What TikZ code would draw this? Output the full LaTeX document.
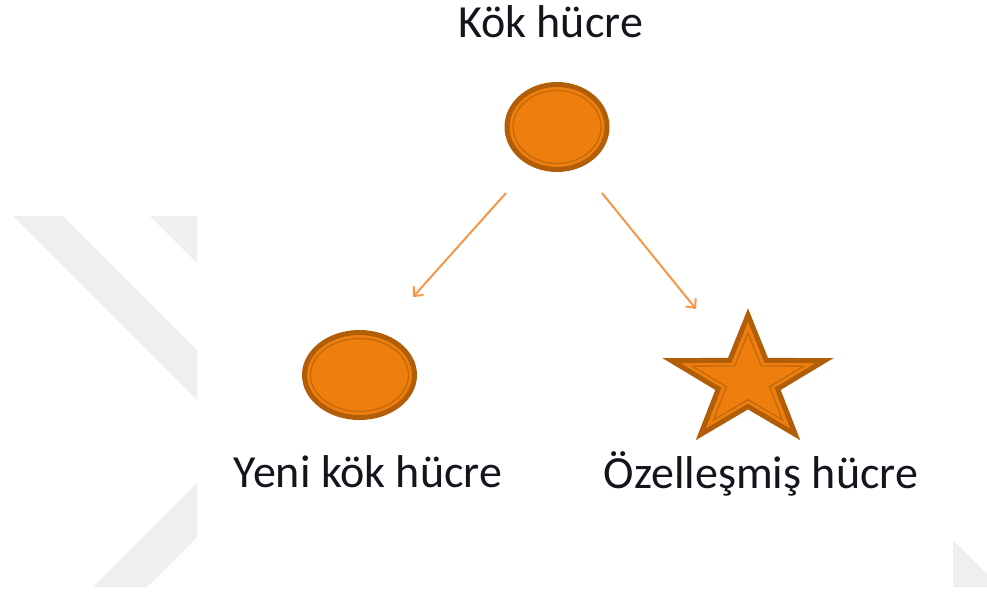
\documentclass[tikz,border=0pt]{standalone}
\usepackage{fontspec}
\setmainfont{Carlito}
\usetikzlibrary{arrows.meta,shapes.geometric}
\definecolor{cellfill}{RGB}{238,127,14}
\definecolor{celldark}{RGB}{178,94,8}
\definecolor{ringc}{RGB}{196,104,10}
\definecolor{arrowc}{RGB}{247,150,70}
\definecolor{wm}{RGB}{239,239,239}
\definecolor{txt}{RGB}{20,20,28}
\begin{document}
\begin{tikzpicture}[x=1pt,y=-1pt,
  cell/.style={ellipse, draw=celldark, fill=cellfill, line width=5pt, inner sep=0pt},
  ring/.style={draw=ringc, line width=1.3pt},
  starbody/.style={draw=celldark, fill=cellfill, line width=5pt, line join=miter},
  lbl/.style={font=\fontsize{46}{50}\selectfont, text=txt, inner sep=0pt, anchor=base},
  arr/.style={draw=arrowc, line width=2pt, -{Straight Barb[length=7pt,width=13pt]}},
  wmark/.style={fill=wm, draw=none}]
\useasboundingbox (0,0) rectangle (987,592);
% watermark
\fill[wmark] (13,216) -- (63,216) -- (197,350) -- (197,400) -- cycle;
\fill[wmark] (150,216) -- (197,216) -- (197,263) -- cycle;
\fill[wmark] (93,587) -- (147,587) -- (197,537) -- (197,483) -- cycle;
\fill[wmark] (953,540) -- (987,574) -- (987,587) -- (953,587) -- cycle;
% cells
\node[cell, minimum width=100pt, minimum height=85pt] (stem) at (557,127) {};
\draw[ring] (stem.center) ellipse [x radius=44, y radius=36.5];
\node[cell, minimum width=110pt, minimum height=85pt] (newstem) at (359.5,375) {};
\draw[ring] (newstem.center) ellipse [x radius=49, y radius=36.5];
\coordinate (spec) at (748,381);
\draw[starbody, shift={(spec)}, xscale=1.22]
  (-90:66) -- (-54:25.5) -- (-18:66) -- (18:25.5) -- (54:66) -- (90:25.5) -- (126:66) -- (162:25.5) -- (198:66) -- (234:25.5) -- cycle;
\draw[ring, shift={(spec)}, xscale=1.22]
  (-90:48) -- (-54:18.6) -- (-18:48) -- (18:18.6) -- (54:48) -- (90:18.6) -- (126:48) -- (162:18.6) -- (198:48) -- (234:18.6) -- cycle;
% labels
\node[lbl] (l1) at (550.5,37) {Kök hücre};
\node[lbl] (l2) at (368,487) {Yeni kök hücre};
\node[lbl] (l3) at (761,488) {Özelleşmiş hücre};
% arrows
\coordinate (a1s) at (506,193);
\coordinate (a1e) at (413,297);
\coordinate (a2s) at (602,193);
\coordinate (a2e) at (696,309);
\draw[arr] (a1s) -- (a1e);
\draw[arr] (a2s) -- (a2e);
\end{tikzpicture}
\end{document}
